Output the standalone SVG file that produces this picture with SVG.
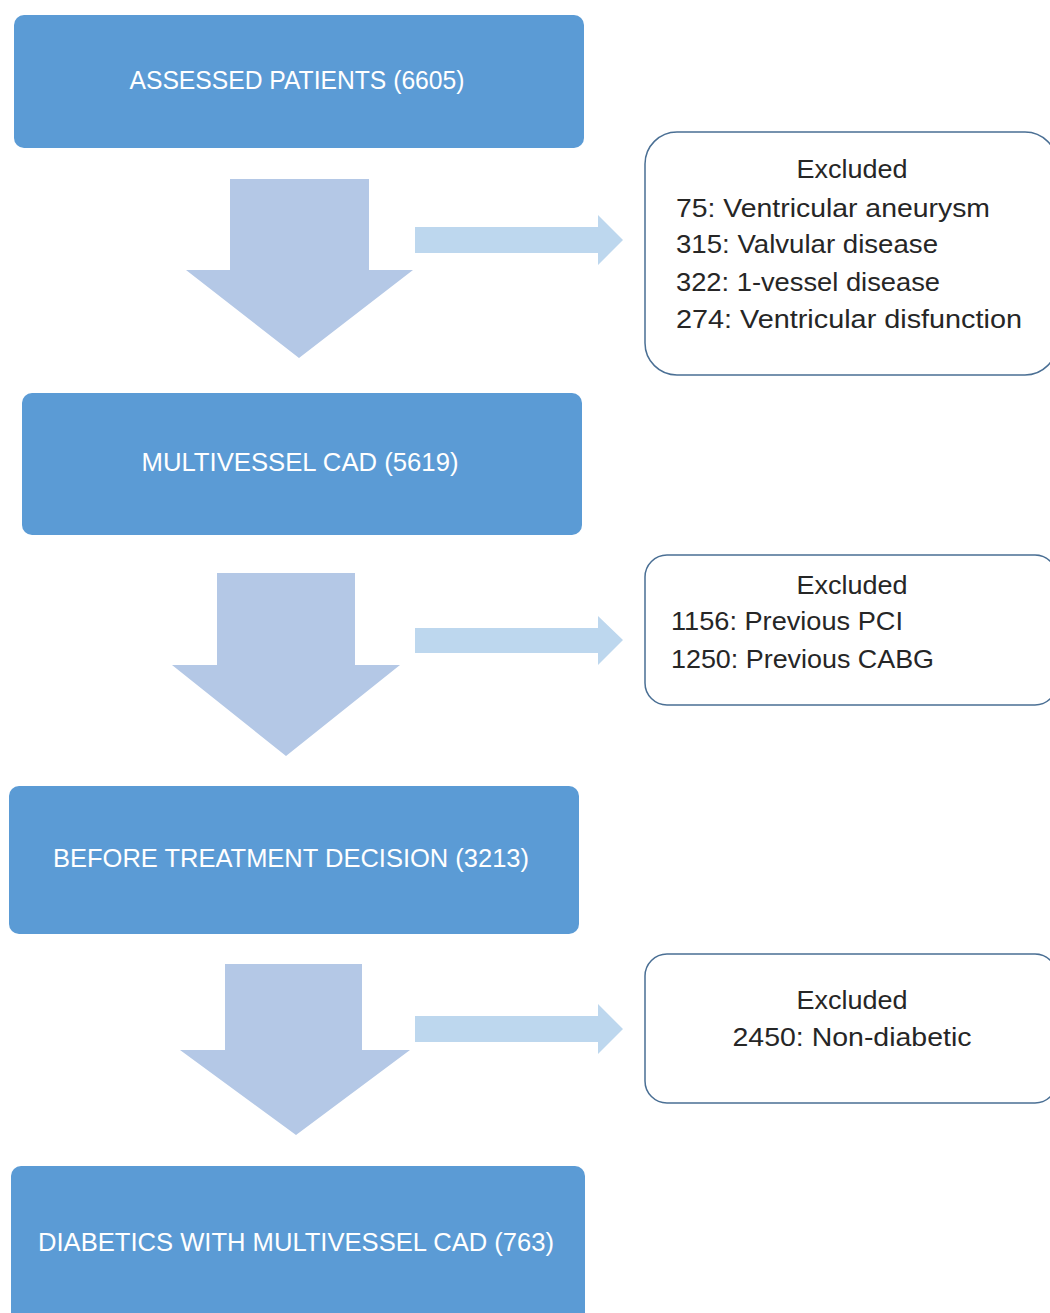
<svg xmlns="http://www.w3.org/2000/svg" width="1050" height="1313" viewBox="0 0 1050 1313">
<style>
.main{fill:#5b9bd5}
.mt{fill:#ffffff;font-family:"Liberation Sans",Arial,sans-serif;font-size:25px;text-anchor:middle}
.down{fill:#b4c8e6}
.right{fill:#bdd7ee}
.ex{fill:#ffffff;stroke:#4a6f94;stroke-width:1.5}
.et{fill:#262626;font-family:"Liberation Sans",Arial,sans-serif;font-size:26px}
.c{text-anchor:middle}
</style>
<rect width="1050" height="1313" fill="#ffffff"/>
<g id="connectors">
<polygon class="down" points="230,179 369,179 369,270 413,270 299,358 186,270 230,270"/>
<polygon class="right" points="415,227 598,227 598,215 623,240 598,265 598,253 415,253"/>
<polygon class="down" points="217,573 355,573 355,665 400,665 286,756 172,665 217,665"/>
<polygon class="right" points="415,628 598,628 598,616 623,640 598,665 598,653 415,653"/>
<polygon class="down" points="225,964 362,964 362,1050 410,1050 296,1135 180,1050 225,1050"/>
<polygon class="right" points="415,1016 598,1016 598,1004 623,1029 598,1054 598,1042 415,1042"/>
</g>
<g id="assessed">
<rect class="main" x="14" y="15" width="570" height="133" rx="10"/>
<text class="mt" x="297" y="89" textLength="335" lengthAdjust="spacingAndGlyphs">ASSESSED PATIENTS (6605)</text>
</g>
<g id="excluded1">
<rect class="ex" x="645" y="132" width="412" height="243" rx="32"/>
<text class="et c" x="852" y="178" textLength="111" lengthAdjust="spacingAndGlyphs">Excluded</text>
<text class="et" x="676" y="217" textLength="314" lengthAdjust="spacingAndGlyphs">75: Ventricular aneurysm</text>
<text class="et" x="676" y="253" textLength="262" lengthAdjust="spacingAndGlyphs">315: Valvular disease</text>
<text class="et" x="676" y="291" textLength="264" lengthAdjust="spacingAndGlyphs">322: 1-vessel disease</text>
<text class="et" x="676" y="328" textLength="346" lengthAdjust="spacingAndGlyphs">274: Ventricular disfunction</text>
</g>
<g id="multivessel">
<rect class="main" x="22" y="393" width="560" height="142" rx="10"/>
<text class="mt" x="300" y="471" textLength="317" lengthAdjust="spacingAndGlyphs">MULTIVESSEL CAD (5619)</text>
</g>
<g id="excluded2">
<rect class="ex" x="645" y="555" width="412" height="150" rx="22"/>
<text class="et c" x="852" y="594" textLength="111" lengthAdjust="spacingAndGlyphs">Excluded</text>
<text class="et" x="671" y="630" textLength="232" lengthAdjust="spacingAndGlyphs">1156: Previous PCI</text>
<text class="et" x="671" y="668" textLength="263" lengthAdjust="spacingAndGlyphs">1250: Previous CABG</text>
</g>
<g id="before">
<rect class="main" x="9" y="786" width="570" height="148" rx="10"/>
<text class="mt" x="291" y="867" textLength="476" lengthAdjust="spacingAndGlyphs">BEFORE TREATMENT DECISION (3213)</text>
</g>
<g id="excluded3">
<rect class="ex" x="645" y="954" width="412" height="149" rx="22"/>
<text class="et c" x="852" y="1009" textLength="111" lengthAdjust="spacingAndGlyphs">Excluded</text>
<text class="et c" x="852" y="1046" textLength="239" lengthAdjust="spacingAndGlyphs">2450: Non-diabetic</text>
</g>
<g id="diabetics">
<rect class="main" x="11" y="1166" width="574" height="160" rx="10"/>
<text class="mt" x="296" y="1251" textLength="516" lengthAdjust="spacingAndGlyphs">DIABETICS WITH MULTIVESSEL CAD (763)</text>
</g>
</svg>
